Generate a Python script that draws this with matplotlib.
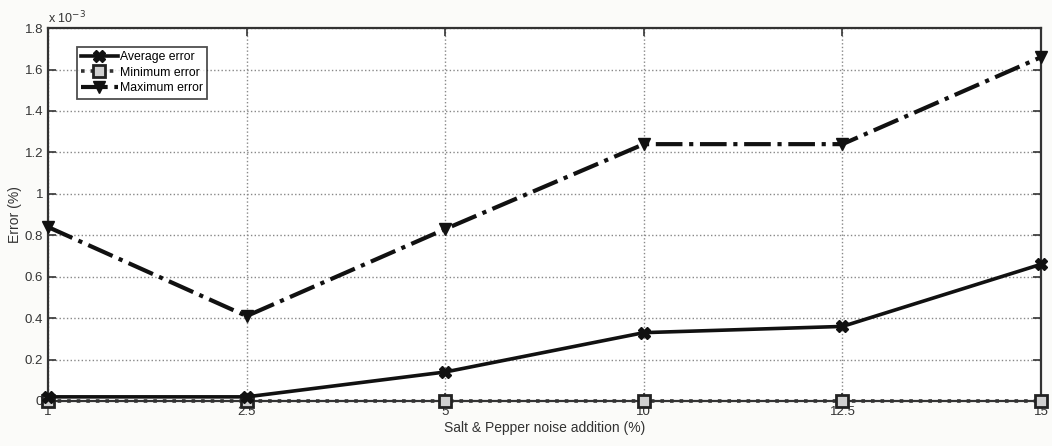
import matplotlib
matplotlib.use("Agg")
import matplotlib.pyplot as plt
from matplotlib import font_manager
from matplotlib.ticker import FuncFormatter

# Noise levels (%) and error values (x 10^-3 %)
noise_labels = ["1", "2.5", "5", "10", "12.5", "15"]
avg_error = [0.02, 0.02, 0.14, 0.33, 0.36, 0.66]
min_error = [0.0, 0.0, 0.0, 0.0, 0.0, 0.0]
max_error = [0.84, 0.41, 0.83, 1.24, 1.24, 1.66]
scale = 1e-3

families = {f.name for f in font_manager.fontManager.ttflist}
font = "Liberation Sans Narrow" if "Liberation Sans Narrow" in families else "Liberation Sans"
plt.rcParams["font.family"] = [font, "DejaVu Sans"]

fig = plt.figure(figsize=(10.52, 4.46), dpi=100)
fig.patch.set_facecolor("#fbfbf9")
ax = fig.add_axes([0.0456, 0.1009, 0.944, 0.836])

x = list(range(1, len(noise_labels) + 1))
ax.plot(x, [v * scale for v in avg_error], "-", color="#111111", lw=2.6,
        marker="X", ms=8, mec="#111111", label="Average error", zorder=5, clip_on=False)
ax.plot(x, [v * scale for v in min_error], ":", color="#333333", lw=2.6,
        marker="s", ms=8, mfc="#d0d0d0", mec="#222222", mew=2, label="Minimum error",
        zorder=4, clip_on=False)
ax.plot(x, [v * scale for v in max_error], "-.", color="#111111", lw=3,
        marker="v", ms=9, label="Maximum error", zorder=5, clip_on=False)

ax.set_xlim(1, len(noise_labels))
ax.set_ylim(0, 1.8e-3)
ax.set_xticks(x)
ax.set_xticklabels(noise_labels)
ax.set_yticks([i * 0.2e-3 for i in range(10)])
ax.yaxis.set_major_formatter(FuncFormatter(lambda v, p: "0" if v == 0 else ("%g" % round(v * 1e3, 1))))
ax.text(0.0, 1.012, r"x 10$^{-3}$", transform=ax.transAxes, fontsize=9, color="#333333")

ax.grid(True, linestyle=":", color="#888888", lw=1)
ax.tick_params(direction="in", top=True, right=True, length=6, width=1.2,
               labelsize=9.5, colors="#333333")
for s in ax.spines.values():
    s.set_linewidth(1.6)
    s.set_color("#333333")

ax.set_xlabel("Salt & Pepper noise addition (%)", fontsize=10, color="#333333", labelpad=2)
ax.set_ylabel("Error (%)", fontsize=10, color="#333333", labelpad=2)

leg = ax.legend(loc="upper left", bbox_to_anchor=(0.029, 0.95), fontsize=8.8,
                frameon=True, fancybox=False, edgecolor="#222222", handlelength=3.0,
                handletextpad=0.15, borderpad=0.35, labelspacing=0.3, borderaxespad=0.0)
leg.get_frame().set_linewidth(1.3)

fig.savefig("out.png", dpi=100, facecolor=fig.get_facecolor())
